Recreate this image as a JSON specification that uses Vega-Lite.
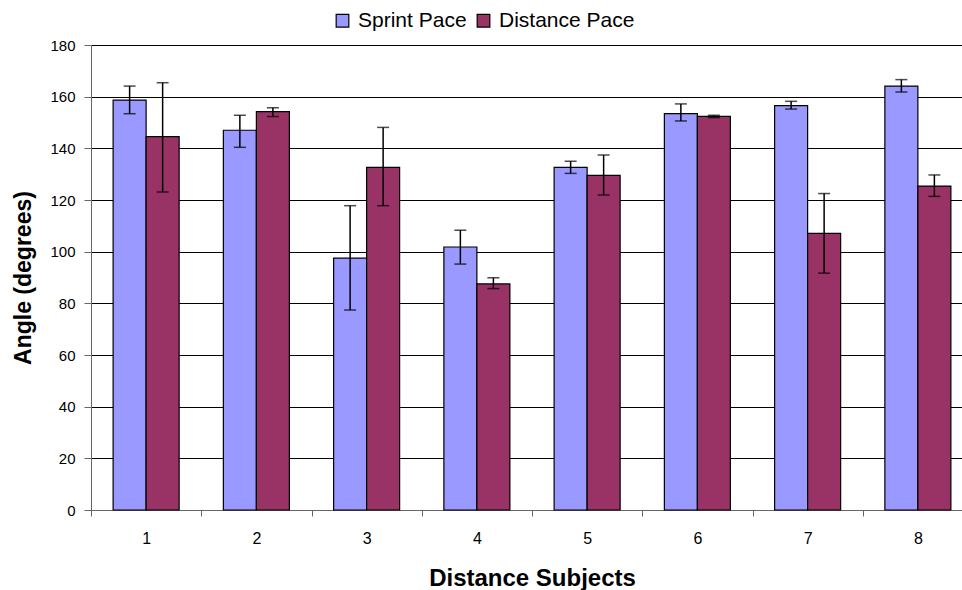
{
  "$schema": "https://vega.github.io/schema/vega-lite/v6.json",
  "width": 872,
  "height": 465,
  "autosize": {"type": "none"},
  "padding": {"left": 91, "top": 45, "right": 0, "bottom": 80},
  "background": "white",
  "config": {
    "font": "Liberation Sans",
    "view": {"stroke": null},
    "axis": {
      "labelFont": "Liberation Sans",
      "titleFont": "Liberation Sans",
      "labelColor": "#000",
      "titleColor": "#000",
      "labelFontSize": 15,
      "titleFontSize": 24,
      "titleFontWeight": "bold"
    },
    "legend": {"labelFont": "Liberation Sans", "labelFontSize": 21, "labelColor": "#000"}
  },
  "data": {
    "values": [
      {"subject": "1", "series": "Sprint Pace", "angle": 158.7, "low": 153.4, "high": 164.1},
      {"subject": "1", "series": "Distance Pace", "angle": 144.5, "low": 123.1, "high": 165.4},
      {"subject": "2", "series": "Sprint Pace", "angle": 147.0, "low": 140.4, "high": 152.8},
      {"subject": "2", "series": "Distance Pace", "angle": 154.2, "low": 152.3, "high": 155.7},
      {"subject": "3", "series": "Sprint Pace", "angle": 97.5, "low": 77.4, "high": 117.8},
      {"subject": "3", "series": "Distance Pace", "angle": 132.6, "low": 117.8, "high": 148.1},
      {"subject": "4", "series": "Sprint Pace", "angle": 101.8, "low": 95.2, "high": 108.3},
      {"subject": "4", "series": "Distance Pace", "angle": 87.5, "low": 85.7, "high": 89.9},
      {"subject": "5", "series": "Sprint Pace", "angle": 132.6, "low": 130.3, "high": 135.0},
      {"subject": "5", "series": "Distance Pace", "angle": 129.5, "low": 121.9, "high": 137.4},
      {"subject": "6", "series": "Sprint Pace", "angle": 153.4, "low": 150.6, "high": 157.2},
      {"subject": "6", "series": "Distance Pace", "angle": 152.4, "low": 151.9, "high": 152.8},
      {"subject": "7", "series": "Sprint Pace", "angle": 156.5, "low": 155.2, "high": 158.2},
      {"subject": "7", "series": "Distance Pace", "angle": 107.1, "low": 91.7, "high": 122.5},
      {"subject": "8", "series": "Sprint Pace", "angle": 164.1, "low": 161.8, "high": 166.6},
      {"subject": "8", "series": "Distance Pace", "angle": 125.4, "low": 121.4, "high": 129.7}
    ]
  },
  "encoding": {
    "x": {
      "field": "subject",
      "type": "nominal",
      "scale": {"range": [0, 882], "paddingInner": 0, "paddingOuter": 0},
      "axis": {
        "title": "Distance Subjects",
        "titlePadding": 20,
        "labelAngle": 0,
        "labelFontSize": 16,
        "labelPadding": 14,
        "tickBand": "extent",
        "tickSize": 6,
        "tickColor": "#666",
        "domainColor": "#666",
        "grid": false
      }
    },
    "xOffset": {
      "field": "series",
      "type": "nominal",
      "sort": ["Sprint Pace", "Distance Pace"],
      "scale": {"paddingInner": 0, "paddingOuter": 0.67}
    }
  },
  "resolve": {"axis": {"y": "independent"}},
  "layer": [
    {
      "mark": {"type": "bar", "stroke": "#000", "strokeWidth": 1.2},
      "encoding": {
        "y": {
          "field": "angle",
          "type": "quantitative",
          "scale": {"domain": [0, 180], "nice": false},
          "axis": {
            "title": "Angle (degrees)",
            "titleFontSize": 23,
            "titlePadding": 14,
            "labelPadding": 9,
            "values": [0, 20, 40, 60, 80, 100, 120, 140, 160, 180],
            "labelOverlap": false,
            "tickSize": 7,
            "tickColor": "#666",
            "domainColor": "#666",
            "grid": true,
            "gridColor": "#000",
            "gridWidth": 1
          }
        },
        "color": {
          "field": "series",
          "type": "nominal",
          "sort": ["Sprint Pace", "Distance Pace"],
          "scale": {"domain": ["Sprint Pace", "Distance Pace"], "range": ["#9999FF", "#993366"]},
          "legend": {
            "title": null,
            "orient": "none",
            "direction": "horizontal",
            "legendX": 241,
            "legendY": -35,
            "symbolType": "square",
            "symbolSize": 160,
            "symbolStrokeColor": "#000",
            "symbolStrokeWidth": 1.2,
            "labelOffset": 5,
            "columnPadding": 6
          }
        }
      }
    },
    {
      "mark": {"type": "rule", "color": "#000", "strokeWidth": 1.5},
      "encoding": {
        "y": {"field": "low", "type": "quantitative", "axis": null},
        "y2": {"field": "high"}
      }
    },
    {
      "mark": {"type": "tick", "color": "#000", "size": 12, "thickness": 1.5},
      "encoding": {"y": {"field": "low", "type": "quantitative", "axis": null}}
    },
    {
      "mark": {"type": "tick", "color": "#000", "size": 12, "thickness": 1.5},
      "encoding": {"y": {"field": "high", "type": "quantitative", "axis": null}}
    }
  ]
}
